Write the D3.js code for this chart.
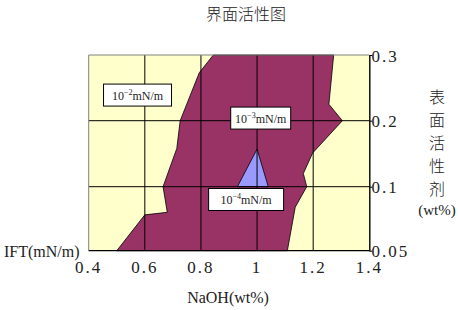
<!DOCTYPE html>
<html>
<head>
<meta charset="utf-8">
<script src="https://cdn.jsdelivr.net/npm/d3@7"></script>
<style>
  body { margin: 0; background: #fff; }
  svg { display: block; }
</style>
</head>
<body>
<svg id="chart" width="458" height="310"></svg>
<script>
// axis values
const naohTicks = [0.4, 0.6, 0.8, 1.0, 1.2, 1.4];
const surfTicks = [0.05, 0.1, 0.2, 0.3];

// 10^-3 region: low-NaOH edge (bottom -> top)
const lowEdgeNaOH = [0.5, 0.6, 0.68, 0.665, 0.714, 0.726, 0.794, 0.844];
const lowEdgeSurf = [0.05, 0.078, 0.08, 0.1, 0.158, 0.2, 0.273, 0.3];
// 10^-3 region: high-NaOH edge (top -> bottom)
const highEdgeNaOH = [1.273, 1.256, 1.304, 1.198, 1.165, 1.177, 1.136, 1.108];
const highEdgeSurf = [0.3, 0.225, 0.2, 0.151, 0.12, 0.1, 0.084, 0.05];
// 10^-4 region
const coreNaOH = [0.93, 1.0, 1.04];
const coreSurf = [0.1, 0.157, 0.1];

// contour labels
const labelExp = ["2", "3", "4"];
const labelNaOH = [0.574, 1.013, 0.961];
const labelSurf = [0.239, 0.204, 0.09];

const svg = d3.select("#chart");
const serif = "'Liberation Serif', 'DejaVu Serif', serif";
const cjk = "'Noto Sans CJK SC', sans-serif";

const plotL = 88.7, plotR = 369.3, plotT = 55, plotB = 250.7;

const x = d3.scaleLinear().domain([0.4, 1.4]).range([plotL, plotR]);
// categories are evenly spaced on the chart
const y = d3.scaleLinear().domain(surfTicks).range([250.7, 186.7, 120.7, 55]);

const line = d3.line().x(d => x(d[0])).y(d => y(d[1]));

// background (10^-2 region)
svg.append("rect")
  .attr("x", plotL).attr("y", plotT)
  .attr("width", plotR - plotL).attr("height", plotB - plotT)
  .attr("fill", "#ffffcc");

// 10^-3 region
const midPts = lowEdgeNaOH.map((v, i) => [v, lowEdgeSurf[i]])
  .concat(highEdgeNaOH.map((v, i) => [v, highEdgeSurf[i]]));
svg.append("path")
  .attr("d", line(midPts) + "Z")
  .attr("fill", "#993366")
  .attr("stroke", "#000")
  .attr("stroke-width", 0.8);

// 10^-4 region
const corePts = coreNaOH.map((v, i) => [v, coreSurf[i]]);
svg.append("path")
  .attr("d", line(corePts) + "Z")
  .attr("fill", "#9999ff")
  .attr("stroke", "#000")
  .attr("stroke-width", 0.8);

// grid
const grid = svg.append("g").attr("stroke", "#000").attr("stroke-width", 1);
grid.selectAll(".vx")
  .data(naohTicks.slice(1, -1))
  .enter().append("line")
  .attr("x1", d => x(d)).attr("x2", d => x(d))
  .attr("y1", plotT).attr("y2", plotB);
grid.selectAll(".hy")
  .data(surfTicks.slice(1, -1))
  .enter().append("line")
  .attr("x1", plotL).attr("x2", plotR)
  .attr("y1", d => y(d)).attr("y2", d => y(d));

// plot frame: top/left grey, right/bottom axes black
svg.append("path")
  .attr("d", `M${plotL},${plotB}V${plotT}H${plotR}`)
  .attr("fill", "none").attr("stroke", "#808080").attr("stroke-width", 1);

svg.append("line")
  .attr("x1", plotL).attr("x2", plotR).attr("y1", plotB).attr("y2", plotB)
  .attr("stroke", "#000").attr("stroke-width", 1.2);

const yAxis = svg.append("g")
  .attr("transform", `translate(${plotR},0)`)
  .call(d3.axisRight(y).tickValues(surfTicks).tickSize(3).tickSizeOuter(0).tickFormat(""));
yAxis.select(".domain").attr("stroke", "#000").attr("stroke-width", 1.4);

// tick labels
svg.append("g").selectAll("text")
  .data(naohTicks)
  .enter().append("text")
  .attr("x", d => x(d))
  .attr("y", 272.5)
  .attr("text-anchor", "middle")
  .attr("font-family", serif)
  .attr("font-size", 17)
  .attr("letter-spacing", 2)
  .attr("fill", "#222")
  .text(d => d3.format("")(d));

svg.append("g").selectAll("text")
  .data(surfTicks)
  .enter().append("text")
  .attr("x", 371.5)
  .attr("y", d => y(d) + 6.5)
  .attr("font-family", serif)
  .attr("font-size", 17)
  .attr("letter-spacing", 2)
  .attr("fill", "#222")
  .text(d => d);

// contour labels
const boxW = [68, 60, 75];
const labels = svg.append("g").selectAll("g")
  .data(labelExp)
  .enter().append("g")
  .attr("transform", (d, i) => `translate(${x(labelNaOH[i])},${y(labelSurf[i])})`);
labels.append("rect")
  .attr("x", (d, i) => -boxW[i] / 2)
  .attr("y", -11)
  .attr("width", (d, i) => boxW[i])
  .attr("height", 22)
  .attr("fill", "#fff")
  .attr("stroke", "#000")
  .attr("stroke-width", 1);
const lt = labels.append("text")
  .attr("text-anchor", "middle")
  .attr("y", 4.5)
  .attr("font-family", serif)
  .attr("font-size", 12)
  .attr("fill", "#222");
lt.append("tspan").text("10");
lt.append("tspan").attr("font-size", 8).attr("dy", -5).text(d => "\u2212" + d);
lt.append("tspan").attr("dy", 5).text("mN/m");

// titles
svg.append("text")
  .attr("x", 246).attr("y", 20)
  .attr("text-anchor", "middle")
  .attr("font-family", cjk)
  .attr("font-weight", 300)
  .attr("font-size", 16)
  .attr("fill", "#222")
  .text("界面活性图");

svg.append("text")
  .attr("x", 228).attr("y", 303)
  .attr("text-anchor", "middle")
  .attr("font-family", serif)
  .attr("font-size", 16)
  .attr("fill", "#222")
  .text("NaOH(wt%)");

svg.append("text")
  .attr("x", 4).attr("y", 257)
  .attr("font-family", serif)
  .attr("font-size", 16)
  .attr("fill", "#222")
  .text("IFT(mN/m)");

const vChars = ["表", "面", "活", "性", "剂"];
svg.append("g").selectAll("text")
  .data(vChars)
  .enter().append("text")
  .attr("x", 437)
  .attr("y", (d, i) => 103 + i * 23)
  .attr("text-anchor", "middle")
  .attr("font-family", cjk)
  .attr("font-weight", 300)
  .attr("font-size", 16)
  .attr("fill", "#222")
  .text(d => d);

svg.append("text")
  .attr("x", 437).attr("y", 215)
  .attr("text-anchor", "middle")
  .attr("font-family", serif)
  .attr("font-size", 15)
  .attr("fill", "#222")
  .text("(wt%)");
</script>
</body>
</html>
